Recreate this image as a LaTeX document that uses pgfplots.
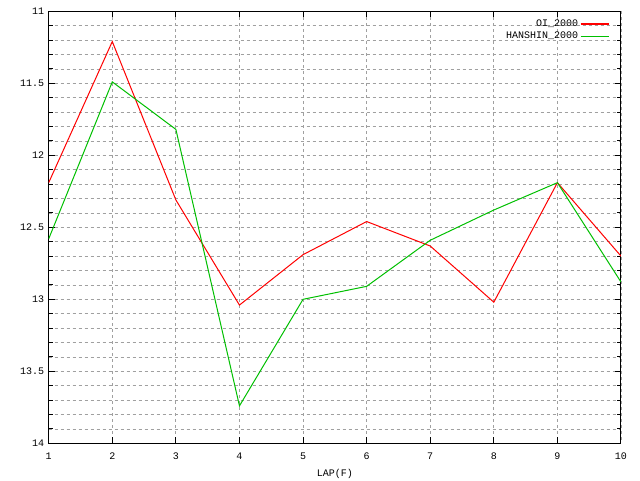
\documentclass[border=0pt]{standalone}
\usepackage{fontspec}
\setmainfont{Liberation Mono}
\setmonofont{Liberation Mono}
\usepackage{pgfplots}
\pgfplotsset{compat=1.18}
\definecolor{gpred}{RGB}{255,0,0}
\definecolor{gpgreen}{RGB}{0,192,0}
\definecolor{gpgrid}{RGB}{160,160,160}
\begin{document}
\begin{tikzpicture}[x=1pt,y=1pt]
\fill[white] (-48.7,-36.7) rectangle (591.3,443.3);
\begin{axis}[
  at={(0,0)}, anchor=south west,
  scale only axis, width=572.3pt, height=432pt,
  font=\fontsize{10}{12}\selectfont,
  /pgf/number format/assume math mode=true,
  xmin=1, xmax=10, ymin=11, ymax=14,
  y dir=reverse,
  xtick={1,...,10},
  ytick={11,11.5,12,12.5,13,13.5,14},
  yticklabels={11,11.5,12,12.5,13,13.5,14},
  minor y tick num=4,
  grid=both,
  major grid style={gpgrid, line width=0.8pt, dash pattern=on 3pt off 3pt},
  minor grid style={gpgrid, line width=0.8pt, dash pattern=on 3pt off 3pt},
  axis line style={black, line width=1pt},
  tick style={black, line width=1pt},
  major tick length=6pt, minor tick length=4pt,
  xticklabel style={yshift=-6pt},
  yticklabel style={xshift=-1pt},
  xlabel={LAP(F)},
  xlabel style={yshift=-3pt},
  legend style={draw=none, fill=none, at={(0.985,0.99)}, anchor=north east,
    cells={anchor=east}, row sep=0pt, font=\fontsize{10}{12}\selectfont},
  legend plot pos=right,
  legend image code/.code={\draw[#1, solid, line width=1.2pt] (6pt,0pt) -- (34pt,0pt);},
]
\addplot[gpred, line width=1pt] coordinates {
  (1,12.19) (2,11.21) (3,12.31) (4,13.04) (5,12.69)
  (6,12.46) (7,12.63) (8,13.02) (9,12.19) (10,12.70)};
\addlegendentry{OI\_2000}
\addplot[gpgreen, line width=1pt] coordinates {
  (1,12.58) (2,11.49) (3,11.82) (4,13.74) (5,13.00)
  (6,12.91) (7,12.59) (8,12.38) (9,12.19) (10,12.88)};
\addlegendentry{HANSHIN\_2000}
\end{axis}
\pgfresetboundingbox
\useasboundingbox (-48.7,-36.7) rectangle (591.3,443.3);
\end{tikzpicture}
\end{document}
